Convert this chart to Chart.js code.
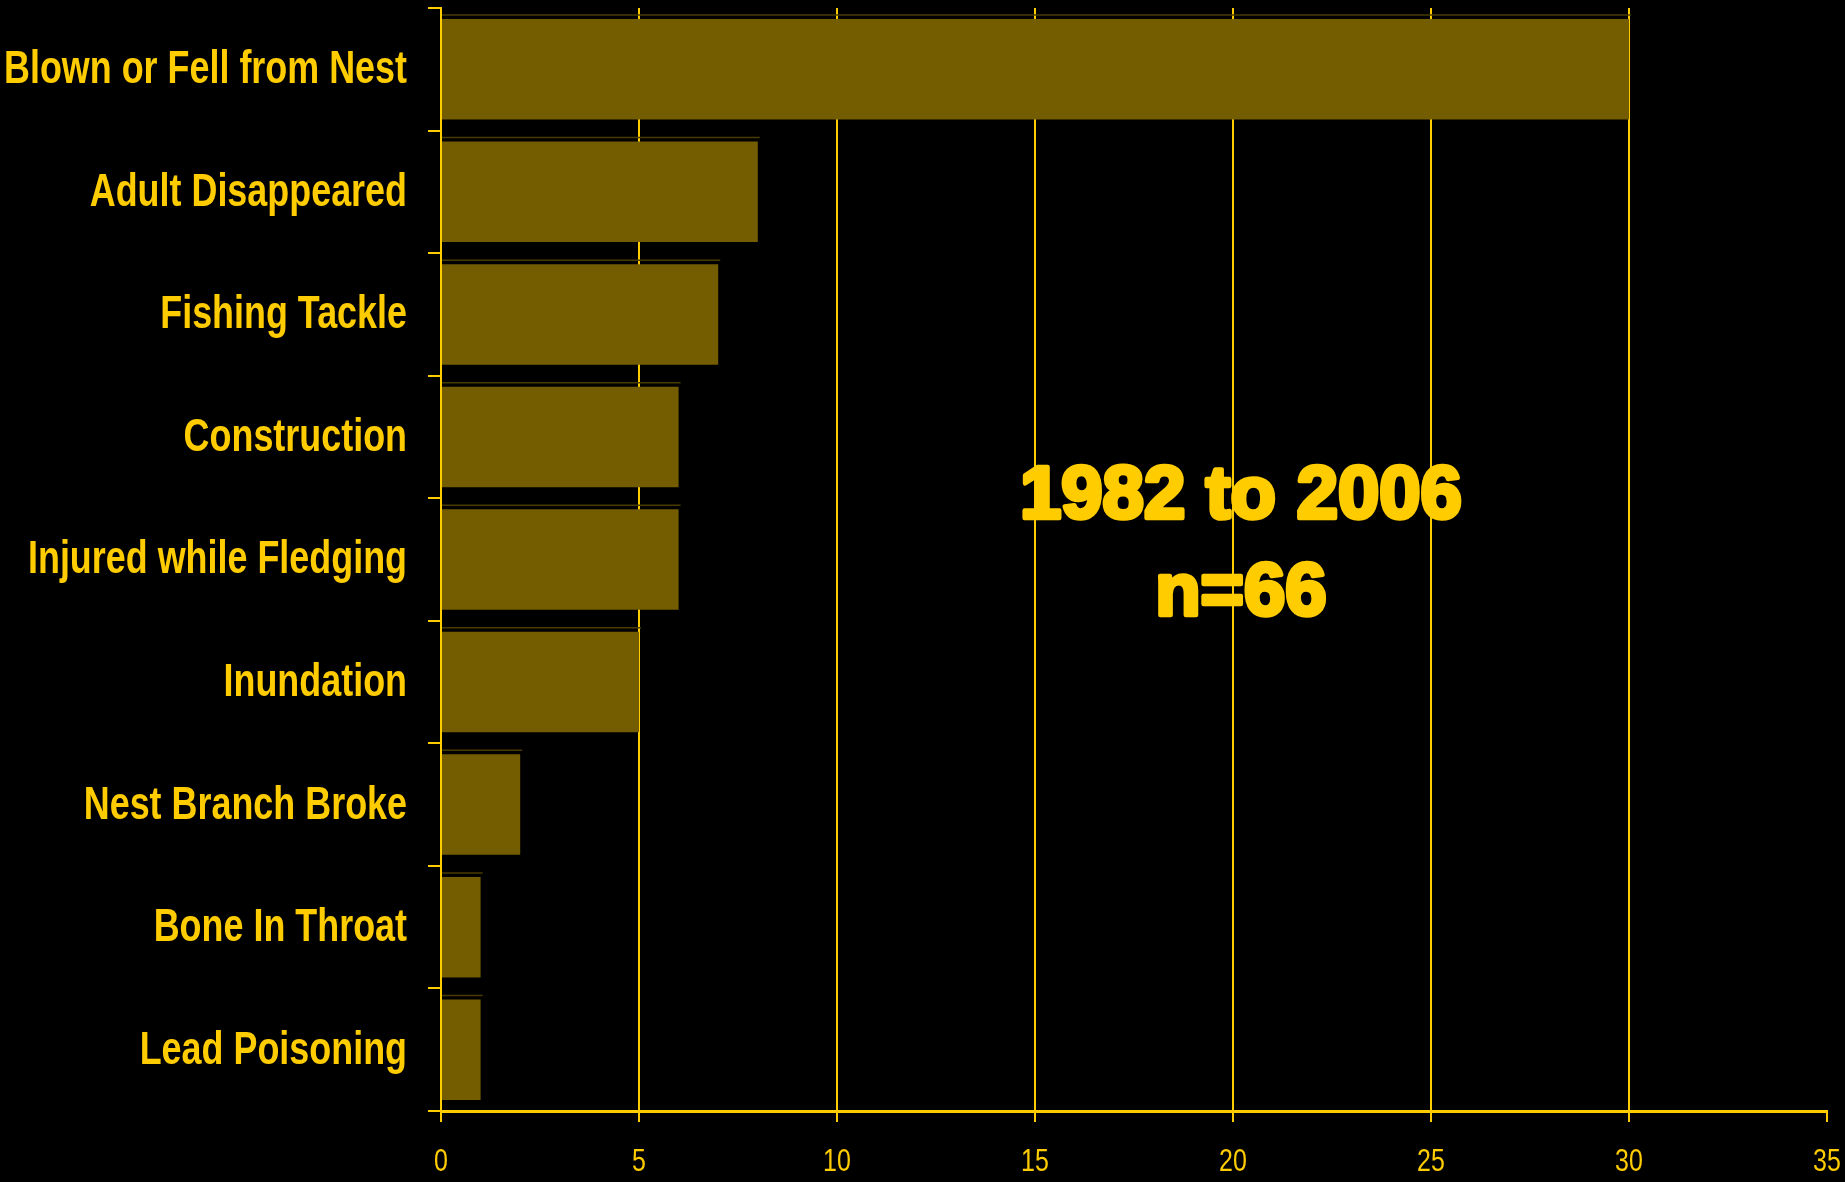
<!DOCTYPE html>
<html>
<head>
<meta charset="utf-8">
<title>Causes of loss 1982 to 2006</title>
<script src="https://cdn.jsdelivr.net/npm/chart.js@4/dist/chart.umd.min.js"></script>
<style>
  html, body { margin: 0; padding: 0; background: #000; }
  canvas { display: block; }
</style>
</head>
<body>
<canvas id="chart" width="1845" height="1182"></canvas>
<script>
// Chart data
const categories = [
    'Blown or Fell from Nest',
    'Adult Disappeared',
    'Fishing Tackle',
    'Construction',
    'Injured while Fledging',
    'Inundation',
    'Nest Branch Broke',
    'Bone In Throat',
    'Lead Poisoning'
];
const counts = [30, 8, 7, 6, 6, 5, 2, 1, 1];
const xTicks = [0, 5, 10, 15, 20, 25, 30, 35];
const noteLines = ['1982 to 2006', 'n=66'];

const yellow = '#FFCC00';
const barColor = '#745D00';
const shadowColor = '#4A3B00';
const sans = '"Liberation Sans", Arial, sans-serif';

// draws text squeezed horizontally (no narrow font installed)
function squeezedText(ctx, text, x, y, sx, stroke) {
    ctx.save();
    ctx.translate(x, y);
    ctx.scale(sx, 1);
    if (stroke) ctx.strokeText(text, 0, 0);
    ctx.fillText(text, 0, 0);
    ctx.restore();
}

// thin dark line sitting just above each bar
const shadowPlugin = {
    id: 'barShadow',
    beforeDatasetsDraw(chart) {
        const ctx = chart.ctx;
        const meta = chart.getDatasetMeta(0);
        ctx.save();
        ctx.strokeStyle = shadowColor;
        ctx.lineWidth = 1.5;
        meta.data.forEach(bar => {
            const y = bar.y - bar.height / 2 - 4;
            ctx.beginPath();
            ctx.moveTo(bar.base, y);
            ctx.lineTo(bar.x + 2, y);
            ctx.stroke();
        });
        ctx.restore();
    }
};

// axis labels in a condensed look
const labelPlugin = {
    id: 'labels',
    afterDraw(chart) {
        const ctx = chart.ctx;
        const ys = chart.scales.y;
        const xs = chart.scales.x;
        ctx.save();
        ctx.fillStyle = yellow;
        ctx.textBaseline = 'middle';

        ctx.font = 'bold 47px ' + sans;
        ctx.textAlign = 'right';
        const sy = 403 / ctx.measureText(categories[0]).width;
        categories.forEach((c, i) => {
            squeezedText(ctx, c, ys.right - 34, ys.getPixelForTick(i) + 1, sy, false);
        });

        ctx.font = '32px ' + sans;
        ctx.textAlign = 'center';
        xTicks.forEach(v => {
            squeezedText(ctx, String(v), xs.getPixelForValue(v), xs.top + 51, 0.78, false);
        });
        ctx.restore();
    }
};

// Big note over the plot
const notePlugin = {
    id: 'note',
    afterDatasetsDraw(chart) {
        const ctx = chart.ctx;
        const area = chart.chartArea;
        const x = chart.scales.x.getPixelForValue(20.2);
        const rows = [0.4624, 0.5503];
        ctx.save();
        ctx.font = 'bold 75px ' + sans;
        ctx.fillStyle = yellow;
        ctx.strokeStyle = yellow;
        ctx.lineWidth = 4.5;
        ctx.lineJoin = 'round';
        ctx.textBaseline = 'alphabetic';
        ctx.textAlign = 'center';
        const sx = 442 / ctx.measureText(noteLines[0]).width;
        noteLines.forEach((line, i) => {
            const y = area.top + rows[i] * (area.bottom - area.top);
            squeezedText(ctx, line, x, y, sx, true);
        });
        ctx.restore();
    }
};

new Chart(document.getElementById('chart'), {
    type: 'bar',
    data: {
        labels: categories,
        datasets: [{
            data: counts,
            backgroundColor: barColor,
            borderWidth: 0,
            categoryPercentage: 1,
            barPercentage: 0.82
        }]
    },
    options: {
        indexAxis: 'y',
        responsive: false,
        animation: false,
        devicePixelRatio: 1,
        layout: { padding: { top: 8, right: 18, left: 0, bottom: 0 } },
        plugins: {
            legend: { display: false },
            tooltip: { enabled: false }
        },
        scales: {
            x: {
                min: 0,
                max: 35,
                afterBuildTicks(scale) {
                    scale.ticks = xTicks.map(v => ({ value: v }));
                },
                afterFit(scale) { scale.height = 71; },
                grid: {
                    color: ctx => (ctx.tick && ctx.tick.value === 35) ? 'rgba(0,0,0,0)' : yellow,
                    tickColor: yellow,
                    lineWidth: 2,
                    tickLength: 11
                },
                border: { color: yellow, width: 3 },
                ticks: { display: false }
            },
            y: {
                afterFit(scale) { scale.width = 441; },
                grid: {
                    offset: true,
                    drawOnChartArea: false,
                    color: yellow,
                    lineWidth: 2,
                    tickLength: 13
                },
                border: { color: yellow, width: 2 },
                ticks: { display: false }
            }
        }
    },
    plugins: [shadowPlugin, notePlugin, labelPlugin]
});
</script>
</body>
</html>
